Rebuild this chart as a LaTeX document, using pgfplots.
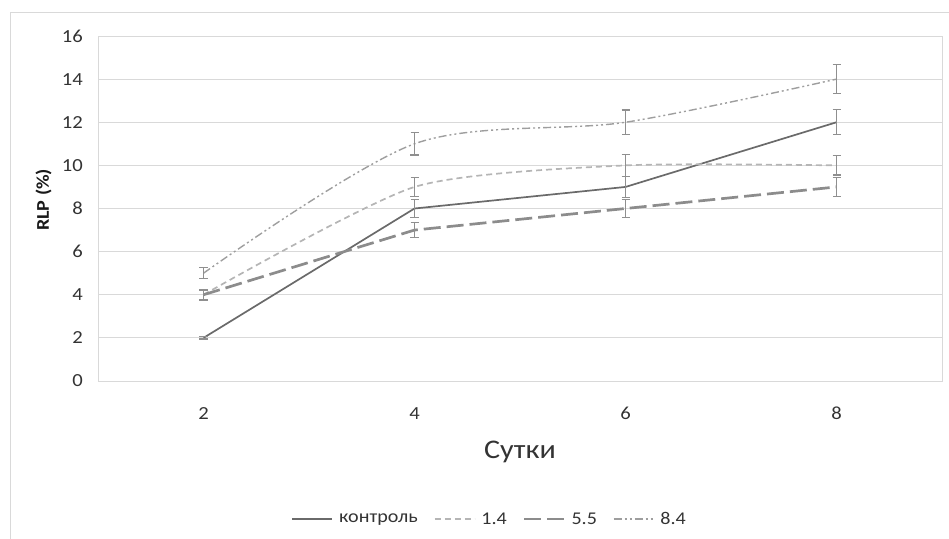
\documentclass[border=0pt]{standalone}
\usepackage{pgfplots}
\pgfplotsset{compat=1.18}
\usepackage{fontspec}
\setmainfont{Carlito}[FakeStretch=1.12]
\definecolor{gridc}{HTML}{D9D9D9}
\definecolor{txt}{HTML}{333333}
\definecolor{ctrl}{HTML}{6A6A6A}
\definecolor{ca}{HTML}{B5B5B5}
\definecolor{cb}{HTML}{8C8C8C}
\definecolor{cc}{HTML}{9E9E9E}
\definecolor{errc}{HTML}{8F8F8F}
\begin{document}
\begin{tikzpicture}
\useasboundingbox (0bp,0bp) rectangle (949bp,-539bp);
\draw[gridc, line width=1.2bp] (10.5bp,-539bp) -- (10.5bp,-12.5bp) -- (949bp,-12.5bp);
\begin{axis}[
  at={(98bp,-381bp)}, anchor=south west,
  scale only axis, width=844bp, height=345bp,
  xmin=1, xmax=9, ymin=0, ymax=16,
  xtick={2,4,6,8}, ytick={0,2,...,16},
  major tick length=0pt,
  axis line style={gridc, line width=1bp},
  ymajorgrids, grid style={gridc, line width=1bp},
  /pgf/number format/assume math mode=true,
  tick label style={font=\fontsize{18.5}{22}\selectfont, text=txt},
  yticklabel style={inner sep=0pt, xshift=-15bp},
  xticklabel style={inner sep=0pt, yshift=-26bp},
  every axis x label/.style={at={(axis description cs:0.5,-0.206)}, anchor=center},
  every axis y label/.style={at={(axis description cs:-0.0645,0.525)}, rotate=90, anchor=center},
  xlabel={\fontsize{27}{32}\selectfont\color{txt}Сутки},
  ylabel={\fontsize{18}{21}\selectfont\bfseries\color{black!90}RLP (\%)},
  legend columns=4,
  legend style={at={(axis description cs:0.464,-0.4)}, anchor=center, draw=none, fill=none,
    font=\fontsize{18}{21}\selectfont, text=txt,
    /tikz/every odd column/.append style={column sep=4bp},
    /tikz/every even column/.append style={column sep=14bp}},
  legend image code/.code={\draw[#1] (0bp,0bp) -- (40bp,0bp);},
  error bars/y dir=both, error bars/y explicit,
  error bars/error bar style={errc, line width=1.2bp, solid},
  error bars/error mark options={rotate=90, errc, mark size=4bp, line width=1.2bp, solid},
]
\addplot[ctrl, line width=1.7bp, mark=none] coordinates {
  (2,2) +- (0,0.05)
  (4,8) +- (0,0.4)
  (6,9) +- (0,0.5)
  (8,12) +- (0,0.58)
};
\addlegendentry{контроль}
\addplot[ca, line width=1.7bp, dash pattern=on 6bp off 4bp, smooth, tension=0.4, mark=none] coordinates {
  (2,4) +- (0,0.25)
  (4,9) +- (0,0.45)
  (6,10) +- (0,0.5)
  (8,10) +- (0,0.45)
};
\addlegendentry{1.4}
\addplot[cb, line width=2.7bp, dash pattern=on 17bp off 6bp, mark=none] coordinates {
  (2,4) +- (0,0.22)
  (4,7) +- (0,0.35)
  (6,8) +- (0,0.4)
  (8,9) +- (0,0.45)
};
\addlegendentry{5.5}
\addplot[cc, line width=1.4bp, dash pattern=on 8bp off 3bp on 2bp off 3bp on 2bp off 3bp, smooth, mark=none] coordinates {
  (2,5) +- (0,0.25)
  (4,11) +- (0,0.52)
  (6,12) +- (0,0.57)
  (8,14) +- (0,0.68)
};
\addlegendentry{8.4}
\end{axis}
\end{tikzpicture}
\end{document}
